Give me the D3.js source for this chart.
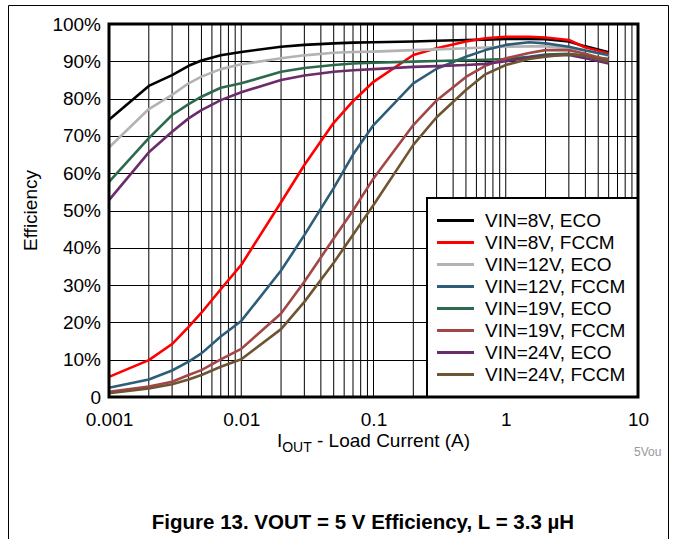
<!DOCTYPE html>
<html>
<head>
<meta charset="utf-8">
<script src="https://cdn.jsdelivr.net/npm/d3@7"></script>
<style>
  html, body { margin: 0; padding: 0; background: #fff; }
  svg { display: block; font-family: "Liberation Sans", Arial, Helvetica, sans-serif; }
</style>
</head>
<body>
<svg id="chart" width="673" height="539"></svg>
<script>
// ---- Data ----
const current = [0.001, 0.002, 0.003, 0.004, 0.005, 0.007, 0.01, 0.02, 0.03, 0.05, 0.07, 0.1, 0.2, 0.3, 0.5, 0.7, 1, 1.5, 2, 3, 4, 6];
const vin8Eco   = [74.3, 83.4, 86.3, 88.8, 90.2, 91.6, 92.5, 93.9, 94.4, 94.8, 95.0, 95.1, 95.3, 95.5, 95.7, 95.8, 96.0, 96.0, 95.9, 95.3, 94.0, 92.4];
const vin8Fccm  = [5.4, 9.9, 14.2, 18.8, 22.6, 28.9, 35.4, 52.2, 62.2, 73.5, 79.3, 84.5, 91.7, 93.5, 95.3, 96.2, 96.6, 96.6, 96.4, 95.7, 93.7, 92.1];
const vin12Eco  = [66.9, 77.2, 81.0, 84.1, 85.9, 87.9, 89.2, 90.8, 91.6, 92.3, 92.5, 92.6, 93.0, 93.2, 93.5, 93.7, 93.9, 94.0, 94.0, 93.5, 93.0, 91.5];
const vin12Fccm = [2.5, 4.7, 7.1, 9.5, 11.7, 16.2, 20.4, 33.9, 43.4, 56.0, 65.0, 72.9, 84.1, 88.0, 91.2, 93.0, 94.4, 95.1, 94.8, 93.9, 92.9, 91.7];
const vin19Eco  = [57.7, 69.4, 75.6, 78.5, 80.5, 82.9, 84.1, 87.2, 88.2, 89.0, 89.4, 89.6, 89.9, 90.1, 90.3, 90.4, 90.6, 91.2, 91.8, 92.0, 91.5, 90.6];
const vin19Fccm = [1.4, 2.8, 4.1, 5.9, 7.2, 10.1, 12.9, 22.4, 30.9, 42.5, 50.0, 58.6, 72.9, 79.5, 85.8, 88.8, 90.8, 92.2, 93.0, 93.0, 92.0, 90.3];
const vin24Eco  = [52.8, 65.6, 71.1, 74.7, 76.9, 79.6, 81.7, 85.0, 86.2, 87.2, 87.6, 87.9, 88.5, 88.7, 89.0, 89.3, 90.0, 91.0, 91.5, 91.7, 90.8, 89.4];
const vin24Fccm = [1.0, 2.3, 3.4, 4.7, 5.9, 8.1, 10.1, 18.2, 25.5, 36.0, 43.5, 51.5, 67.6, 75.0, 82.3, 86.5, 89.0, 90.6, 91.2, 91.9, 91.5, 89.9];

const seriesNames = ["VIN=8V, ECO", "VIN=8V, FCCM", "VIN=12V, ECO", "VIN=12V, FCCM", "VIN=19V, ECO", "VIN=19V, FCCM", "VIN=24V, ECO", "VIN=24V, FCCM"];
const seriesValues = [vin8Eco, vin8Fccm, vin12Eco, vin12Fccm, vin19Eco, vin19Fccm, vin24Eco, vin24Fccm];
const seriesColors = ["#000000", "#ff0000", "#b3b3b3", "#2e5d78", "#2b6a4d", "#a24646", "#6b2c6b", "#6e5431"];

const xTickValues = [0.001, 0.01, 0.1, 1, 10];
const xTickLabels = ["0.001", "0.01", "0.1", "1", "10"];
const yTickValues = [0, 10, 20, 30, 40, 50, 60, 70, 80, 90, 100];
const yTickLabels = ["0", "10%", "20%", "30%", "40%", "50%", "60%", "70%", "80%", "90%", "100%"];

const yTitle = "Efficiency";
const caption = "Figure 13. VOUT = 5 V Efficiency, L = 3.3 µH";
const sideNote = "5Vou";

// ---- Layout ----
const svg = d3.select("#chart");
const W = 673, H = 539;
const plot = { left: 109, right: 638, top: 24, bottom: 397 };

const x = d3.scaleLog().domain([0.001, 10]).range([plot.left, plot.right]);
const y = d3.scaleLinear().domain([0, 100]).range([plot.bottom, plot.top]);

// outer frame
svg.append("path")
  .attr("d", `M8.5,${H + 2} L8.5,5.5 L668.5,5.5 L668.5,${H + 2}`)
  .attr("fill", "none").attr("stroke", "#000").attr("stroke-width", 1);

// grid - vertical minor/major lines
const gridX = [];
[0.001, 0.01, 0.1, 1].forEach(d => { for (let k = 1; k <= 9; k++) gridX.push(d * k); });
svg.append("g").selectAll("line").data(gridX.filter(v => v > 0.001)).join("line")
  .attr("x1", d => x(d)).attr("x2", d => x(d))
  .attr("y1", plot.top).attr("y2", plot.bottom)
  .attr("stroke", "#000").attr("stroke-width", 1);

svg.append("g").selectAll("line").data(yTickValues.filter(v => v > 0 && v < 100)).join("line")
  .attr("x1", plot.left).attr("x2", plot.right)
  .attr("y1", d => Math.round(y(d)) + 0.5).attr("y2", d => Math.round(y(d)) + 0.5)
  .attr("stroke", "#000").attr("stroke-width", 1);

// axes (labels only; domain lines drawn by the border)
const xAxis = d3.axisBottom(x).tickValues(xTickValues)
  .tickFormat((d, i) => xTickLabels[i]).tickSize(0).tickPadding(16);
const gx = svg.append("g").attr("transform", `translate(0,${plot.bottom})`).call(xAxis);
gx.select(".domain").remove();
gx.selectAll("text").attr("font-size", 19).attr("fill", "#000")
  .attr("font-family", "'Liberation Sans', Arial, sans-serif");

const yAxis = d3.axisLeft(y).tickValues(yTickValues)
  .tickFormat((d, i) => yTickLabels[i]).tickSize(0).tickPadding(8);
const gy = svg.append("g").attr("transform", `translate(${plot.left},0)`).call(yAxis);
gy.select(".domain").remove();
gy.selectAll("text").attr("font-size", 19).attr("fill", "#000")
  .attr("font-family", "'Liberation Sans', Arial, sans-serif");

// series lines
const line = d3.line().x((d, i) => x(current[i])).y(d => y(d));
svg.append("g").attr("clip-path", null).selectAll("path").data(seriesValues).join("path")
  .attr("d", d => line(d))
  .attr("fill", "none")
  .attr("stroke", (d, i) => seriesColors[i])
  .attr("stroke-width", 2.6)
  .attr("stroke-linejoin", "round");

// legend
const lg = { left: 427, top: 198 };
svg.append("rect")
  .attr("x", lg.left).attr("y", lg.top)
  .attr("width", plot.right - lg.left).attr("height", plot.bottom - lg.top)
  .attr("fill", "#fff").attr("stroke", "#000").attr("stroke-width", 2);
const rowY = d3.scaleLinear().domain([0, 7]).range([220.5, 374.5]);
const items = svg.append("g").selectAll("g").data(seriesNames).join("g")
  .attr("transform", (d, i) => `translate(0,${rowY(i)})`);
items.append("line")
  .attr("x1", 437).attr("x2", 474).attr("y1", 0).attr("y2", 0)
  .attr("stroke", (d, i) => seriesColors[i]).attr("stroke-width", 3);
items.append("text")
  .attr("x", 485).attr("y", 0).attr("dy", "0.35em")
  .attr("font-size", 19).attr("fill", "#000").text(d => d);

// plot border
svg.append("rect")
  .attr("x", plot.left).attr("y", plot.top)
  .attr("width", plot.right - plot.left).attr("height", plot.bottom - plot.top)
  .attr("fill", "none").attr("stroke", "#000").attr("stroke-width", 3);

// y title
svg.append("text")
  .attr("transform", `translate(37,${(plot.top + plot.bottom) / 2}) rotate(-90)`)
  .attr("text-anchor", "middle").attr("font-size", 19).text(yTitle);

// x title with subscript
const xt = svg.append("text")
  .attr("x", (plot.left + plot.right) / 2).attr("y", 447)
  .attr("text-anchor", "middle").attr("font-size", 19);
xt.append("tspan").text("I");
xt.append("tspan").attr("font-size", 14).attr("dy", 5).text("OUT");
xt.append("tspan").attr("dy", -5).text(" - Load Current (A)");

// side note
svg.append("text").attr("x", 634).attr("y", 456)
  .attr("font-size", 12).attr("fill", "#999").text(sideNote);

// caption
svg.append("text").attr("x", 363).attr("y", 529)
  .attr("text-anchor", "middle").attr("font-size", 20.5).attr("font-weight", "bold")
  .text(caption);
</script>
</body>
</html>
